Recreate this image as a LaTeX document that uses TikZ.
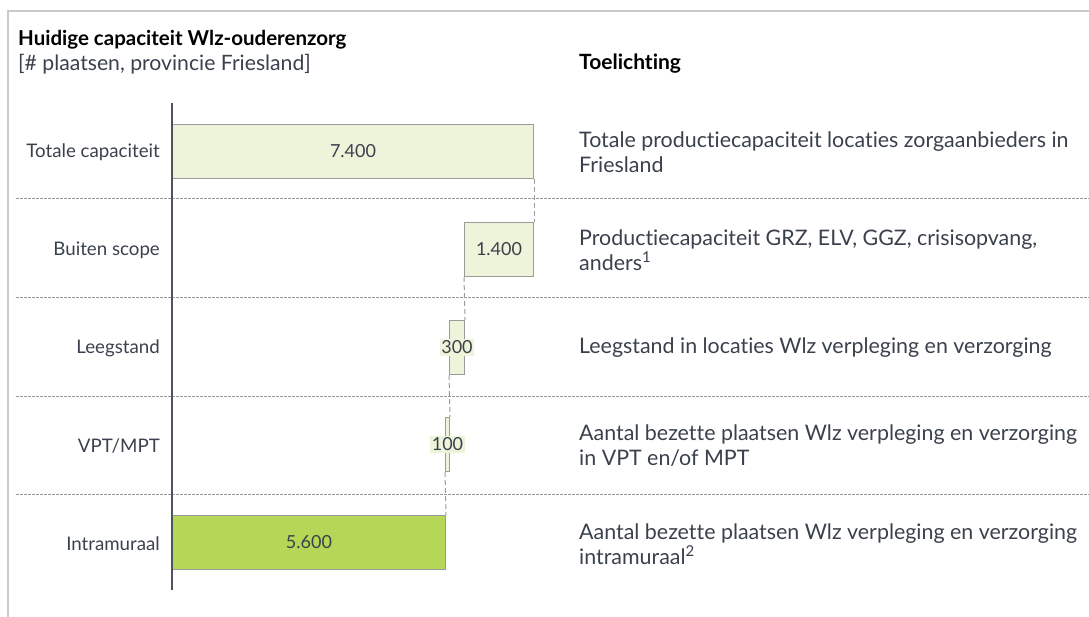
\documentclass[tikz,border=0pt]{standalone}
\usepackage{fontspec}
\setmainfont{Lato}[Ligatures=NoCommon]
\definecolor{txt}{HTML}{3A414C}
\definecolor{barfill}{HTML}{EEF4DA}
\definecolor{barline}{HTML}{9A9C9A}
\definecolor{bargreen}{HTML}{B5D656}
\definecolor{frame}{HTML}{C9C9CE}

\begin{document}
\begin{tikzpicture}[
    x=1pt, y=-1pt,
    every node/.style={
      text=txt, font=\fontsize{18}{21}\selectfont
    },
    bar/.style={
      draw=barline, line width=1pt, fill=barfill,
      minimum height=54pt, inner sep=0pt, anchor=north west
    },
    rowlab/.style={anchor=east, inner sep=0pt, font=\fontsize{18.7}{21}\selectfont},
    note/.style={
      anchor=west, align=left, inner sep=0pt,
      font=\fontsize{21.4}{25}\selectfont
    },
    smalllab/.style={fill=barfill, inner sep=1.5pt},
    conn/.style={draw=barline, line width=1pt, dash pattern=on 5pt off 3pt},
    sep/.style={draw=gray!80, line width=1pt, dash pattern=on 2.5pt off 1.5pt}
    ]
  \useasboundingbox (0,0) rectangle (1089,617);
  % frame
  \draw[frame, line width=1.5pt] (8,617) -- (8,11) -- (1089,11);

  % headings
  \node[anchor=west, inner sep=0pt, text=black,
    font=\fontsize{20.5}{24}\bfseries] (title) at (18,40) {Huidige capaciteit Wlz-ouderenzorg};
  \node[anchor=west, inner sep=0pt,
    font=\fontsize{21.2}{24}\selectfont] (sub) at (18,64) {[\# plaatsen, provincie Friesland]};
  \node[anchor=west, inner sep=0pt, text=black,
    font=\fontsize{21}{24}\bfseries] (head) at (579,64) {Toelichting};

  % row separators
  \foreach \y in {199,298,396,494}
    \draw[sep] (16,\y) -- (1089,\y);

  % bars
  \node[bar, minimum width=361pt] (b1) at (172,124) {};
  \node[bar, minimum width=69pt] (b2) at (464,222) {};
  \node[bar, minimum width=15pt] (b3) at (449,320) {};
  \node[bar, minimum width=4pt] (b4) at (445,417) {};
  \node[bar, minimum width=273pt, fill=bargreen] (b5) at (172,515) {};

  \draw[conn] (b1.south east) -- (b2.north east);
  \draw[conn] (b2.south west) -- (b3.north east);
  \draw[conn] (b3.south west) -- (b4.north east);
  \draw[conn] (b4.south west) -- (b5.north east);

  % axis
  \draw[txt!90, line width=1.5pt] (172,103) -- (172,590);

  % values
  \node (v1) at (b1) {7.400};
  \node (v2) at (b2) {1.400};
  \node[smalllab] (v3) at (b3) {300};
  \node[smalllab] (v4) at (b4) {100};
  \node (v5) at (b5) {5.600};

  % row labels
  \node[rowlab] (r1) at (160,152) {Totale capaciteit};
  \node[rowlab] (r2) at (160,250) {Buiten scope};
  \node[rowlab] (r3) at (160,348) {Leegstand};
  \node[rowlab] (r4) at (160,446) {VPT/MPT};
  \node[rowlab] (r5) at (160,544) {Intramuraal};

  % notes
  \node[note] (t1) at (579,152) {Totale productiecapaciteit locaties zorgaanbieders in\\Friesland};
  \node[note] (t2) at (579,250) {Productiecapaciteit GRZ, ELV, GGZ, crisisopvang,\\anders\textsuperscript{1}};
  \node[note] (t3) at (579,348) {Leegstand in locaties Wlz verpleging en verzorging};
  \node[note] (t4) at (579,446) {Aantal bezette plaatsen Wlz verpleging en verzorging\\in VPT en/of MPT};
  \node[note] (t5) at (579,544) {Aantal bezette plaatsen Wlz verpleging en verzorging\\intramuraal\textsuperscript{2}};
\end{tikzpicture}
\end{document}
